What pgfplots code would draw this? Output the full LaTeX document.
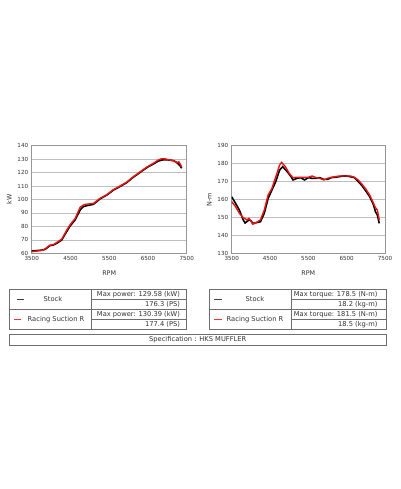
\documentclass[border=0pt]{standalone}
\usepackage{pgfplots}
\pgfplotsset{compat=1.18}
\usepackage{fontspec}
\setmainfont{DejaVu Sans}
\definecolor{gridc}{RGB}{190,190,190}
\definecolor{boxc}{RGB}{150,150,150}
\definecolor{tabc}{RGB}{110,110,110}
\definecolor{redc}{RGB}{235,20,20}
\definecolor{dashred}{RGB}{245,50,50}
\pgfplotsset{
  mystyle/.style={
    scale only axis, anchor=south west,
    xmin=3500, xmax=7500, xtick={3500,4500,5500,6500,7500},
    axis line style={boxc, line width=0.7pt},
    ymajorgrids, grid style={gridc, line width=0.6pt},
    major tick length=0pt,
    tick label style={font=\fontsize{5.6}{6}\selectfont, text=black!80},
    label style={font=\fontsize{6.4}{7}\selectfont, text=black!80},
    xlabel=RPM,
    xlabel style={yshift=-3pt},
    scaled ticks=false,
    /pgf/number format/assume math mode=true,
    /pgf/number format/1000 sep={},
  }
}
\begin{document}
\begin{tikzpicture}
\begin{scope}[x=1pt,y=-1pt,yshift=489pt]
\fill[white] (0,0) rectangle (400,489);
\end{scope}
% ---------- power ----------
\begin{axis}[mystyle, at={(31.7pt,235.7pt)}, width=155pt, height=107.6pt,
  ymin=60, ymax=140, ytick={60,70,...,140}, ylabel=kW, ylabel style={yshift=-1pt}]
\addplot[black, line width=1.6pt] coordinates {
(3500,61.7)(3700,62.2)(3800,62.5)(3860,63.2)(3970,65.7)(4060,66.2)(4145,67.4)(4275,69.9)
(4400,76)(4490,80.3)(4620,84.8)(4750,92.2)(4830,94.7)(4920,95.4)(5090,96.4)(5180,98.4)
(5260,100.4)(5440,103.3)(5610,107)(5740,109)(5950,112.5)(6120,116.5)(6300,120.2)(6470,123.7)
(6640,126.4)(6770,128.6)(6900,129.6)(7030,129.4)(7160,128.9)(7240,127.6)(7330,125.1)(7370,123.2)};
\addplot[redc, line width=1.4pt] coordinates {
(3500,61.2)(3700,61.9)(3800,62.4)(3860,63.6)(3970,66.0)(4060,66.5)(4145,68.0)(4275,70.5)
(4400,77)(4490,81.2)(4620,85.8)(4750,94.2)(4850,96.2)(5000,96.8)(5090,97.0)(5180,99.0)
(5260,100.8)(5440,103.6)(5610,107.4)(5740,109.4)(5950,112.9)(6120,116.9)(6300,120.6)(6470,124.1)
(6640,126.9)(6770,129.4)(6850,130.3)(6950,130.2)(7030,129.6)(7160,128.7)(7240,127.3)(7300,128.0)(7340,126.0)(7370,124.0)};
\end{axis}
% ---------- torque ----------
\begin{axis}[mystyle, at={(231.7pt,235.7pt)}, width=153.3pt, height=107.6pt,
  ymin=130, ymax=190, ytick={130,140,...,190}, ylabel=N-m, ylabel style={yshift=-1pt}]
\addplot[black, line width=1.6pt] coordinates {
(3500,161.5)(3600,157.9)(3700,154.1)(3800,148.6)(3850,146.9)(3950,148.6)(4000,148.2)(4050,146.7)
(4150,147.1)(4250,147.6)(4350,152.3)(4450,160.6)(4550,165.3)(4650,170)(4750,176.4)(4830,178.3)
(4950,175.5)(5050,172.7)(5100,170.9)(5200,171.8)(5300,172.2)(5400,170.9)(5500,172.2)(5600,171.8)
(5700,171.8)(5800,172.2)(5900,171.2)(6000,171.2)(6100,172.2)(6200,172.4)(6300,172.7)(6400,173.1)
(6500,173.1)(6600,172.7)(6700,172.2)(6800,170)(6900,167.7)(7000,164.7)(7100,161.6)(7200,157)
(7250,153.2)(7300,151.4)(7350,146.7)};
\addplot[redc, line width=1.4pt] coordinates {
(3500,158.8)(3600,156)(3700,152.3)(3800,149.9)(3900,148.6)(3950,149.5)(4000,148)(4050,146.2)
(4150,147.3)(4250,148.6)(4350,154.1)(4450,162.5)(4550,166.2)(4650,172.7)(4750,179.2)(4800,180.7)
(4900,178.3)(5000,174.6)(5100,172.2)(5200,172.4)(5300,172.4)(5400,172.4)(5500,172.4)(5600,173.1)
(5700,172.2)(5800,171.8)(5900,170.9)(6000,171.8)(6100,172.4)(6200,172.7)(6300,173.1)(6400,173.1)
(6500,173.1)(6600,173.1)(6700,172.4)(6800,170.9)(6900,168.5)(7000,165.8)(7100,162.5)(7200,157.9)
(7250,155.5)(7300,154.1)(7350,148.6)};
\end{axis}
% ---------- tables ----------
\begin{scope}[x=1pt,y=-1pt,yshift=489pt,font=\fontsize{6.7}{7.5}\selectfont, text=black!80]
\draw[tabc, line width=0.8pt] (9.3,289.7) rectangle (186.7,329.3);
\draw[tabc, line width=0.6pt] (91,289.7) -- (91,329.3) (9.3,309.7) -- (186.7,309.7)
  (91,299.3) -- (186.7,299.3) (91,319.7) -- (186.7,319.7);
\fill[black!75] (17,299) rectangle (23.5,300);
\fill[dashred] (14.3,318.9) rectangle (20.8,320.3);
\node at (53,299.5) {Stock};
\node at (56,319.5) {Racing Suction R};
\node[anchor=east] at (183.5,294.5) {Max power: 129.58 (kW)};
\node[anchor=east] at (183.5,304.5) {176.3 (PS)};
\node[anchor=east] at (183.5,314.7) {Max power: 130.39 (kW)};
\node[anchor=east] at (183.5,324.5) {177.4 (PS)};
\draw[tabc, line width=0.8pt] (209,289.7) rectangle (386,329.3);
\draw[tabc, line width=0.6pt] (291,289.7) -- (291,329.3) (209,309.7) -- (386,309.7)
  (291,299.3) -- (386,299.3) (291,319.7) -- (386,319.7);
\fill[black!75] (214.3,299) rectangle (221.8,300);
\fill[dashred] (214.3,318.9) rectangle (221.8,320.3);
\node at (255,299.5) {Stock};
\node at (255,319.5) {Racing Suction R};
\node[anchor=east] at (381,294.5) {Max torque: 178.5 (N-m)};
\node[anchor=east] at (381,304.5) {18.2 (kg-m)};
\node[anchor=east] at (381,314.7) {Max torque: 181.5 (N-m)};
\node[anchor=east] at (381,324.5) {18.5 (kg-m)};
\draw[tabc, line width=0.8pt] (9.3,334) rectangle (386,345.3);
\node at (197.7,339.7) {Specification : HKS MUFFLER};
\end{scope}
\end{tikzpicture}
\end{document}
